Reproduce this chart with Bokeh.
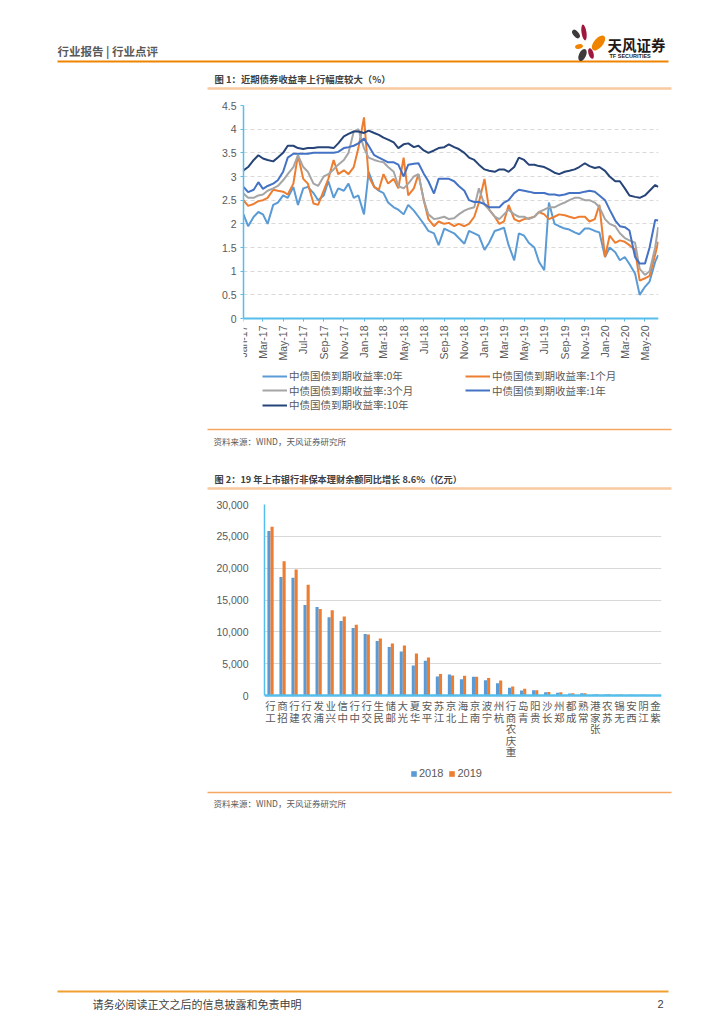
import math
import pandas as pd
from bokeh.plotting import figure
from bokeh.models import (Range1d, FactorRange, FixedTicker, DatetimeTickFormatter,
                          NumeralTickFormatter, Legend, LegendItem, ColumnDataSource)
from bokeh.transform import dodge
from bokeh.core.properties import value
from bokeh.embed import file_html
from bokeh.resources import INLINE

# ---------------- data: chart 1 (semi-monthly readings, %) ----------------
months = pd.date_range("2017-01-01", "2020-05-01", freq="MS")
sample_dates = []
for m in months:
    sample_dates += [m, m + pd.Timedelta(days=14)]
sample_dates += [pd.Timestamp("2020-06-01"), pd.Timestamp("2020-06-10")]

yield_0y = [2.2, 1.95, 2.15, 2.25, 2.2, 2.0, 2.4, 2.45, 2.6, 2.55, 2.78, 2.4, 2.75, 2.78, 2.65, 2.5,
            2.6, 2.9, 2.55, 2.75, 2.7, 2.85, 2.55, 2.6,
            2.2, 3.1, 2.78, 2.7, 2.65, 2.45, 2.35, 2.3, 2.2, 2.4, 2.28, 2.15, 2.0, 1.85, 1.8, 1.55,
            1.9, 1.85, 1.8, 1.7, 1.58, 1.85, 1.8, 1.75,
            1.45, 1.6, 1.85, 1.88, 1.92, 1.55, 1.23, 1.8, 1.75, 1.6, 1.5, 1.2, 1.02, 2.45, 2.0, 1.95,
            1.9, 1.88, 1.82, 1.78, 1.9, 1.9, 1.85, 1.82,
            1.3, 1.5, 1.4, 1.23, 1.3, 1.15, 0.95, 0.5, 0.67, 0.78, 1.2, 1.34]
yield_1m = [2.5, 2.38, 2.42, 2.48, 2.5, 2.55, 2.72, 2.7, 2.68, 2.62, 2.85, 3.45, 2.95, 2.85, 2.43, 2.4,
            2.7, 2.95, 3.35, 3.05, 3.13, 3.05, 3.2, 3.6,
            4.25, 3.0, 2.78, 2.72, 3.05, 2.85, 2.95, 2.75, 3.4, 2.6, 2.75, 3.05, 2.5, 2.1, 1.95, 2.05,
            2.0, 2.02, 1.95, 2.0, 1.95, 2.0, 2.15, 2.45,
            2.95, 2.3, 2.15, 2.0, 2.05, 2.4, 2.1, 2.05, 2.1, 2.12, 2.15, 2.25, 2.2, 2.1, 2.15, 2.2,
            2.18, 2.15, 2.12, 2.15, 2.15, 2.05, 2.1, 2.4,
            1.3, 1.75, 1.6, 1.65, 1.62, 1.55, 1.45, 0.8, 0.85, 0.9, 1.35, 1.62]
yield_3m = [2.64, 2.55, 2.55, 2.6, 2.62, 2.7, 2.75, 2.8, 2.92, 3.05, 3.2, 3.45, 3.2, 3.1, 2.85, 2.8,
            3.0, 3.05, 3.15, 3.25, 3.35, 3.5, 3.95, 4.0,
            3.6, 3.4, 3.35, 3.32, 3.3, 3.2, 3.1, 2.8, 2.75, 2.85, 3.0, 3.05, 2.5, 2.2, 2.1, 2.12,
            2.15, 2.1, 2.12, 2.2, 2.28, 2.32, 2.35, 2.75,
            2.4, 2.3, 2.15, 2.1, 2.2, 2.3, 2.2, 2.15, 2.15, 2.1, 2.15, 2.25, 2.3, 2.35, 2.35, 2.4,
            2.45, 2.5, 2.55, 2.55, 2.5, 2.5, 2.45, 2.35,
            2.1, 2.0, 1.95, 1.8, 1.7, 1.65, 1.6, 1.05, 0.92, 1.0, 1.5, 1.93]
yield_1y = [2.78, 2.67, 2.72, 2.88, 2.74, 2.8, 2.85, 2.92, 3.1, 3.4, 3.48, 3.48, 3.48, 3.48, 3.5, 3.5,
            3.5, 3.5, 3.5, 3.52, 3.6, 3.62, 3.65, 3.7,
            3.8, 3.65, 3.45, 3.4, 3.35, 3.3, 3.3, 3.25, 3.0, 3.25, 3.27, 3.28, 3.06, 2.9, 2.64, 2.95,
            2.95, 2.95, 2.9, 2.8, 2.7, 2.5, 2.46, 2.46,
            2.42, 2.35, 2.35, 2.35, 2.45, 2.5, 2.65, 2.72, 2.7, 2.68, 2.65, 2.65, 2.65, 2.62, 2.62, 2.6,
            2.62, 2.65, 2.65, 2.65, 2.68, 2.7, 2.68, 2.6,
            2.5, 2.3, 2.07, 1.95, 1.93, 1.86, 1.3, 1.16, 1.16, 1.5, 2.08, 2.07]
yield_10y = [3.13, 3.2, 3.35, 3.45, 3.38, 3.35, 3.32, 3.4, 3.5, 3.65, 3.65, 3.6, 3.58, 3.6, 3.6, 3.62,
             3.62, 3.62, 3.6, 3.7, 3.85, 3.9, 3.95, 3.95,
             3.92, 3.97, 3.92, 3.88, 3.82, 3.78, 3.72, 3.6, 3.68, 3.7, 3.62, 3.65, 3.55, 3.5, 3.55, 3.6,
             3.62, 3.68, 3.62, 3.58, 3.5, 3.4, 3.35, 3.25,
             3.15, 3.12, 3.1, 3.15, 3.15, 3.1, 3.2, 3.4, 3.35, 3.25, 3.25, 3.22, 3.2, 3.15, 3.08, 3.05,
             3.1, 3.12, 3.15, 3.2, 3.28, 3.22, 3.18, 3.2,
             3.12, 3.0, 2.9, 2.9, 2.75, 2.6, 2.57, 2.55, 2.6, 2.7, 2.82, 2.78]

series_names = ["中债国债到期收益率:0年", "中债国债到期收益率:1个月", "中债国债到期收益率:3个月",
                "中债国债到期收益率:1年", "中债国债到期收益率:10年"]
series_colors = ["#5B9BD5", "#ED7D31", "#A5A5A5", "#4472C4", "#264478"]
y_ticks_1 = [0, 0.5, 1, 1.5, 2, 2.5, 3, 3.5, 4, 4.5]

# ---------------- data: chart 2 (亿元) ----------------
banks = ["工行", "招商", "建行", "农行", "浦发", "兴业", "中信", "中行", "交行", "民生", "邮储", "光大",
         "华夏", "平安", "江苏", "北京", "上海", "南京", "宁波", "杭州", "重庆农商行", "青岛", "贵阳",
         "长沙", "郑州", "成都", "常熟", "张家港", "苏农", "无锡", "西安", "江阴", "紫金"]
val_2018 = [25850, 18600, 18500, 14200, 13900, 12300, 11700, 10600, 9650, 8550, 7600, 6920,
            4720, 5450, 2990, 3300, 2570, 2940, 2410, 1940, 1200, 790, 840,
            500, 450, 300, 350, 150, 150, 100, 100, 100, 80]
val_2019 = [26500, 21100, 19800, 17400, 13600, 13400, 12400, 11100, 9600, 8970, 8180, 7870,
            6600, 5980, 3360, 3150, 3090, 2940, 2730, 2360, 1420, 1050, 840,
            550, 500, 350, 350, 200, 200, 150, 100, 100, 80]
legend_years = ["2018", "2019"]
y_ticks_2 = [0, 5000, 10000, 15000, 20000, 25000, 30000]

CJK = "Noto Sans CJK SC"
NUM = "Liberation Sans"
GRAY = "#595959"
AXIS_BLUE = "#55BEEA"
ORANGE = "#F08300"
LIGHT_OR = "#F9C9A0"
SRC_OR = "#F5A863"
W = 724


def decor(height, y_top):
    p = figure(width=W, height=height, x_range=Range1d(0, W),
               y_range=Range1d(y_top + height, y_top), min_border=0,
               x_axis_location=None, y_axis_location=None, toolbar_location=None,
               output_backend="svg", outline_line_color=None)
    p.grid.visible = False
    p.background_fill_color = None
    p.border_fill_color = None
    return p


def txt(p, x, y, s, size, color=GRAY, bold=False, font=CJK, align="left"):
    p.text(x=[x], y=[y], text=[s], text_font=value(font), text_font_size=size,
           text_color=color, text_baseline="middle", text_align=align,
           text_font_style="bold" if bold else "normal")


# ---------------- header (page y 0..97) ----------------
hdr = decor(97, 0)
txt(hdr, 57, 50, "行业报告 | 行业点评", "11.5px", GRAY, True)
hdr.segment(x0=[57], y0=[61], x1=[668], y1=[61], line_color=ORANGE, line_width=2)
hdr.ellipse(x=[583.5], y=[32], width=5, height=16, angle=0.15, fill_color="#A0173E", line_color=None)
hdr.ellipse(x=[598], y=[42.5], width=9, height=18, angle=-0.7, fill_color=ORANGE, line_color=None)
hdr.ellipse(x=[575.5], y=[33.5], width=5.5, height=10, angle=0.7, fill_color="#3E3A39", line_color=None)
hdr.ellipse(x=[578.5], y=[46], width=8, height=4.5, angle=0.2, fill_color=ORANGE, line_color=None)
hdr.ellipse(x=[582], y=[54.5], width=7, height=13, angle=-0.45, fill_color="#3E3A39", line_color=None)
hdr.ellipse(x=[590.5], y=[53], width=5, height=11, angle=0.3, fill_color="#A0173E", line_color=None)
txt(hdr, 607, 44, "天风证券", "14.5px", "#231815", True)
txt(hdr, 609, 55.5, "TF SECURITIES", "5.5px", "#231815", True, NUM)
txt(hdr, 214, 78, "图 1：近期债券收益率上行幅度较大（%）", "9.4px", "#404040", True)
hdr.segment(x0=[207], y0=[88], x1=[671], y1=[88], line_color=LIGHT_OR, line_width=2.5)

# ---------------- chart 1 (page y 97..416) ----------------
x_start = pd.Timestamp("2017-01-01")
x_end = pd.Timestamp("2020-06-11")
p1 = figure(frame_width=415, frame_height=311, x_axis_type="datetime",
            x_range=Range1d(x_start, x_end), y_range=Range1d(-2.07, 4.5),
            min_border_left=243, min_border_right=66, min_border_top=8, min_border_bottom=0,
            toolbar_location=None, output_backend="svg", outline_line_color=None)
p1.background_fill_color = None
p1.border_fill_color = None
renderers = []
src_vals = [yield_0y, yield_1m, yield_3m, yield_1y, yield_10y]
for vals, col in zip(src_vals, series_colors):
    r = p1.line(x=sample_dates, y=vals, line_color=col, line_width=2)
    renderers.append(r)
p1.xgrid.visible = False
p1.ygrid.grid_line_color = "#D9D9D9"
p1.ygrid.grid_line_dash = "4 3"
p1.yaxis.ticker = FixedTicker(ticks=y_ticks_1)
p1.yaxis.formatter = NumeralTickFormatter(format="0.[0]")
p1.yaxis.bounds = (0, 4.5)
tick_dates = pd.date_range("2017-01-01", "2020-05-01", freq="2MS")
p1.xaxis.ticker = FixedTicker(ticks=[d.value / 1e6 for d in tick_dates])
fmt = "%b-%y"
p1.xaxis.formatter = DatetimeTickFormatter(days=fmt, months=fmt, years=fmt, hours=fmt,
                                           minutes=fmt, seconds=fmt, milliseconds=fmt,
                                           microseconds=fmt, minsec=fmt, hourmin=fmt)
p1.xaxis.major_label_orientation = math.pi / 2
p1.xaxis.fixed_location = 0
for ax in (p1.xaxis[0], p1.yaxis[0]):
    ax.axis_line_color = AXIS_BLUE
    ax.major_tick_line_color = AXIS_BLUE
    ax.minor_tick_line_color = None
    ax.major_tick_in = 0
    ax.major_tick_out = 3
    ax.major_label_text_font = NUM
    ax.major_label_text_font_size = "10.5px"
    ax.major_label_text_color = GRAY
    ax.major_label_standoff = 4
p1.xaxis.axis_line_width = 2
p1.yaxis.axis_line_width = 1.5

# legend: one row per Legend so the rows can sit as tightly as in the reference
legend_rows = [[0, 1], [2, 3], [4]]
row_bottoms = [33, 18.5, 4]
for row, vy in zip(legend_rows, row_bottoms):
    lg = Legend(items=[LegendItem(label=series_names[i], renderers=[renderers[i]]) for i in row],
                orientation="horizontal", location=(19, vy),
                glyph_width=25, glyph_height=12, label_height=12, label_width=176,
                label_standoff=2, spacing=0, padding=0, margin=0,
                label_text_font=CJK, label_text_font_size="10.5px", label_text_color=GRAY,
                border_line_color=None, background_fill_alpha=0)
    p1.add_layout(lg, "center")

# ---------------- middle band (page y 416..497) ----------------
mid = decor(81, 416)
mid.segment(x0=[207], y0=[429], x1=[671], y1=[429], line_color=SRC_OR, line_width=1.5)
txt(mid, 213, 440, "资料来源：WIND，天风证券研究所", "8.5px", GRAY)
txt(mid, 214, 478, "图 2：19 年上市银行非保本理财余额同比增长 8.6%（亿元）", "9.2px", "#404040", True)
mid.segment(x0=[207], y0=[488], x1=[671], y1=[488], line_color=LIGHT_OR, line_width=2.5)

# ---------------- chart 2 (page y 497..787) ----------------
src2 = ColumnDataSource(dict(bank=banks, v2018=val_2018, v2019=val_2019))
p2 = figure(frame_width=397, frame_height=283, x_range=FactorRange(*banks),
            y_range=Range1d(-14450, 30000),
            min_border_left=264, min_border_right=63, min_border_top=7, min_border_bottom=0,
            toolbar_location=None, output_backend="svg", outline_line_color=None)
p2.background_fill_color = None
p2.border_fill_color = None
b1 = p2.vbar(x=dodge("bank", -0.13, range=p2.x_range), top="v2018", width=0.26, source=src2,
             fill_color="#5B9BD5", line_color=None)
b2 = p2.vbar(x=dodge("bank", 0.13, range=p2.x_range), top="v2019", width=0.26, source=src2,
             fill_color="#ED7D31", line_color=None)
p2.xgrid.visible = False
p2.ygrid.grid_line_color = "#D9D9D9"
p2.yaxis.ticker = FixedTicker(ticks=y_ticks_2)
p2.yaxis.formatter = NumeralTickFormatter(format="0,0")
p2.yaxis.bounds = (0, 30000)
p2.xaxis.fixed_location = 0
for ax in (p2.xaxis[0], p2.yaxis[0]):
    ax.axis_line_color = AXIS_BLUE
    ax.major_tick_line_color = None
    ax.minor_tick_line_color = None
    ax.major_label_text_color = GRAY
ax = p2.yaxis[0]
ax.major_label_text_font = NUM
ax.major_label_text_font_size = "10.5px"
ax.major_label_standoff = 10
ax.axis_line_width = 1.5
ax = p2.xaxis[0]
ax.axis_line_width = 2.5
ax.major_label_text_color = None
ax.major_label_text_font_size = "1px"

# stacked (upright, bottom-to-top) category labels under each bank
lab_x, lab_y, lab_off, lab_t = [], [], [], []
for b in banks:
    for j, ch in enumerate(reversed(b)):
        lab_x.append(b)
        lab_y.append(0)
        lab_off.append(10 + 11.5 * j)
        lab_t.append(ch)
lab_src = ColumnDataSource(dict(x=lab_x, y=lab_y, off=lab_off, t=lab_t))
p2.text(x="x", y="y", y_offset="off", text="t", source=lab_src,
        text_font=value(CJK), text_font_size="10.5px", text_color=GRAY,
        text_align="center", text_baseline="middle")

leg2 = Legend(items=[LegendItem(label=legend_years[0], renderers=[b1]),
                     LegendItem(label=legend_years[1], renderers=[b2])],
              orientation="horizontal", location=(146, 8),
              glyph_width=7, glyph_height=7, label_height=7, label_standoff=2, spacing=5,
              padding=0, margin=0, label_text_font=NUM, label_text_font_size="11px",
              label_text_color=GRAY, border_line_color=None, background_fill_alpha=0)
p2.add_layout(leg2, "center")

# ---------------- footer (page y 787..1024) ----------------
ftr = decor(237, 787)
ftr.segment(x0=[207], y0=[792], x1=[671], y1=[792], line_color=SRC_OR, line_width=1.5)
txt(ftr, 213, 802, "资料来源：WIND，天风证券研究所", "8.5px", GRAY)
ftr.segment(x0=[57], y0=[991], x1=[668], y1=[991], line_color="#F0A030", line_width=2)
txt(ftr, 92, 1003, "请务必阅读正文之后的信息披露和免责申明", "11px", "#404040")
txt(ftr, 663, 1003, "2", "11px", "#404040", False, NUM, "right")

open("out.html", "w").write(file_html([hdr, p1, mid, p2, ftr], INLINE))
